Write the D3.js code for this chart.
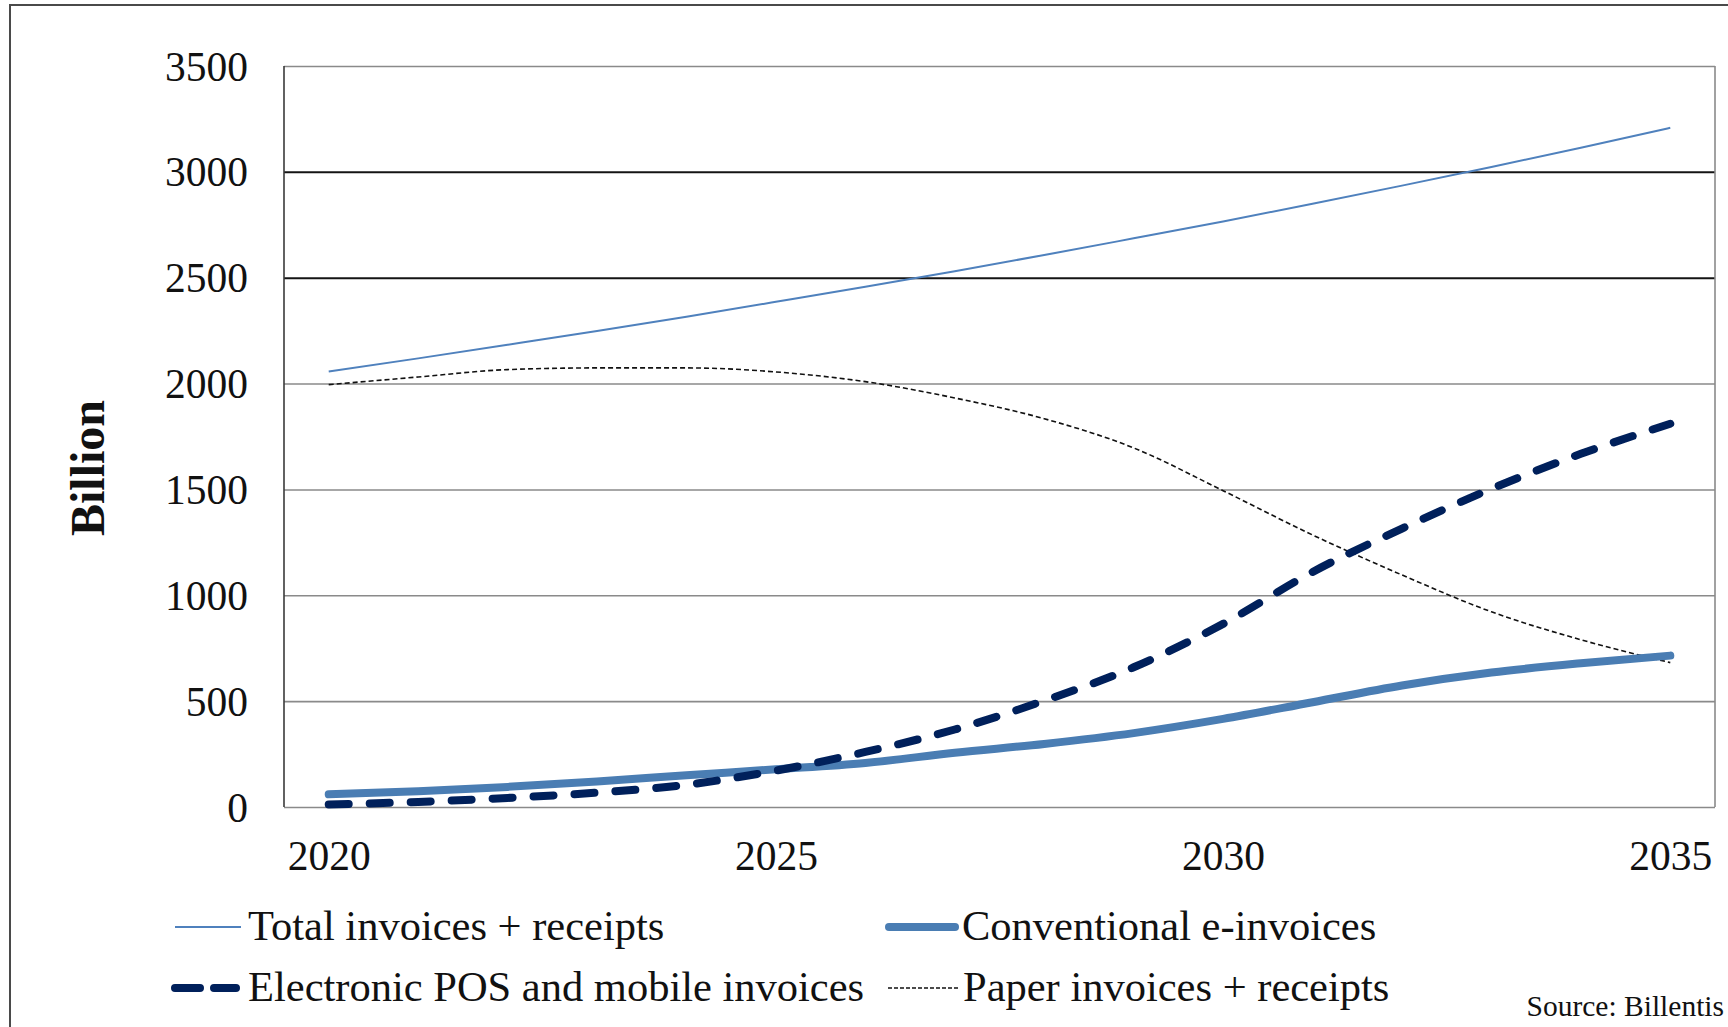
<!DOCTYPE html>
<html>
<head>
<meta charset="utf-8">
<script src="https://cdn.jsdelivr.net/npm/d3@7"></script>
<style>
  html, body { margin: 0; padding: 0; background: #fff; overflow: hidden; }
  svg { display: block; }
  text { font-family: "Liberation Serif", "Times New Roman", serif; fill: #111; }
</style>
</head>
<body>
<svg id="chart" width="1728" height="1027"></svg>
<script>
// ---- data ----
const years = [2020, 2021, 2022, 2023, 2024, 2025, 2026, 2027, 2028, 2029, 2030, 2031, 2032, 2033, 2034, 2035];
const totalInvoices = [2057, 2119, 2183, 2248, 2316, 2386, 2457, 2531, 2607, 2686, 2766, 2849, 2935, 3023, 3114, 3208];
const conventionalEInvoices = [60, 74, 95, 121, 150, 178, 208, 256, 298, 349, 416, 495, 574, 635, 679, 715];
const electronicPOS = [12, 24, 43, 68, 105, 172, 260, 366, 502, 660, 865, 1110, 1315, 1503, 1668, 1810];
const paperInvoices = [1995, 2031, 2066, 2074, 2074, 2055, 2009, 1932, 1834, 1696, 1494, 1285, 1096, 922, 790, 682];
const yTicks = [0, 500, 1000, 1500, 2000, 2500, 3000, 3500];
const xTickLabels = [2020, 2025, 2030, 2035];
const yAxisTitle = "Billion";
const sourceText = "Source: Billentis";
const seriesNames = ["Total invoices + receipts", "Conventional e-invoices", "Electronic POS and mobile invoices", "Paper invoices + receipts"];

// ---- layout ----
const svg = d3.select("#chart");
const plot = { left: 284, right: 1715, top: 66, bottom: 807 };
const W = plot.right - plot.left, H = plot.bottom - plot.top;
const legendFont = 42.5;

// outer frame
svg.append("rect").attr("x", 10).attr("y", 5).attr("width", 1800).attr("height", 1100)
  .attr("fill", "none").attr("stroke", "#4a4a4a").attr("stroke-width", 2);

const x = d3.scalePoint().domain(years).range([plot.left, plot.right]).padding(0.5);
const y = d3.scaleLinear().domain([0, 3500]).range([plot.bottom, plot.top]);

// y axis with gridlines
const gy = svg.append("g").attr("transform", `translate(${plot.left},0)`)
  .call(d3.axisLeft(y).tickValues(yTicks).tickSize(-W).tickPadding(36).tickFormat(d3.format("d")));
gy.select(".domain").remove();
gy.selectAll(".tick line")
  .attr("stroke", d => (d === 2500 || d === 3000) ? "#141414" : "#8a8a8a")
  .attr("stroke-width", d => (d === 2500 || d === 3000) ? 2 : 1.6);
gy.selectAll(".tick text").attr("font-size", 41.5).attr("dy", "0.34em")
  .style("font-family", '"Liberation Serif", "Times New Roman", serif').attr("fill", "#111");

// plot frame
svg.append("line").attr("x1", plot.right).attr("x2", plot.right).attr("y1", plot.top).attr("y2", plot.bottom)
  .attr("stroke", "#8a8a8a").attr("stroke-width", 1.6);
svg.append("line").attr("x1", plot.left).attr("x2", plot.left).attr("y1", plot.top).attr("y2", plot.bottom)
  .attr("stroke", "#3a3a3a").attr("stroke-width", 1.6);

// x axis labels
const gx = svg.append("g").attr("transform", `translate(0,${plot.bottom})`)
  .call(d3.axisBottom(x).tickValues(xTickLabels).tickSize(0).tickPadding(34).tickFormat(d3.format("d")));
gx.select(".domain").remove();
gx.selectAll(".tick text").attr("font-size", 41.5)
  .style("font-family", '"Liberation Serif", "Times New Roman", serif').attr("fill", "#111");

// y axis title
svg.append("text").attr("transform", "translate(104,468) rotate(-90)")
  .attr("text-anchor", "middle").attr("font-size", 48).attr("font-weight", "bold").text(yAxisTitle);

// lines
const line = d3.line().x((d, i) => x(years[i])).y(d => y(d)).curve(d3.curveMonotoneX);

const styles = [
  { data: totalInvoices, color: "#4f81bd", width: 2, dash: null, cap: "butt" },
  { data: conventionalEInvoices, color: "#4a7db3", width: 8, dash: null, cap: "round" },
  { data: electronicPOS, color: "#00205b", width: 8, dash: "20 21", cap: "round" },
  { data: paperInvoices, color: "#111", width: 1.6, dash: "5 3", cap: "butt" }
];
// draw order: paper, total, conventional, electronic
[3, 0, 1, 2].forEach(k => {
  const s = styles[k];
  svg.append("path").datum(s.data).attr("d", line)
    .attr("fill", "none").attr("stroke", s.color).attr("stroke-width", s.width)
    .attr("stroke-linecap", s.cap).attr("stroke-linejoin", "round")
    .attr("stroke-dasharray", s.dash);
});

// legend
const legendItems = [
  { name: seriesNames[0], s: styles[0], x1: 175, x2: 241, tx: 248, by: 940 },
  { name: seriesNames[1], s: styles[1], x1: 889, x2: 955, tx: 962, by: 940 },
  { name: seriesNames[2], s: Object.assign({}, styles[2], { dash: "25 14" }), x1: 175, x2: 236, tx: 248, by: 1001 },
  { name: seriesNames[3], s: Object.assign({}, styles[3], { dash: "4 2", width: 1.3 }), x1: 888, x2: 959, tx: 963, by: 1001 }
];
const lg = svg.append("g");
legendItems.forEach(it => {
  lg.append("line").attr("x1", it.x1).attr("x2", it.x2).attr("y1", it.by - 13).attr("y2", it.by - 13)
    .attr("stroke", it.s.color).attr("stroke-width", it.s.width).attr("stroke-linecap", it.s.cap)
    .attr("stroke-dasharray", it.s.dash);
  lg.append("text").attr("x", it.tx).attr("y", it.by).attr("font-size", legendFont).text(it.name);
});

// source (kept fully inside the page)
svg.append("text").attr("x", 1724).attr("y", 1016).attr("text-anchor", "end")
  .attr("font-size", 29.5).text(sourceText);
</script>
</body>
</html>
